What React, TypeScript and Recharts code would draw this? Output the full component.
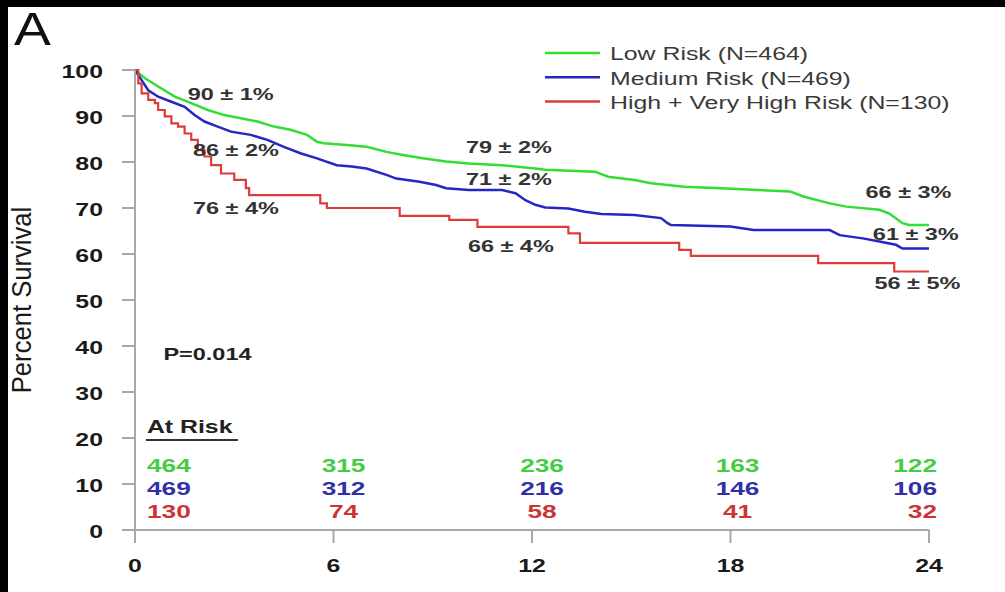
import { LineChart, Line, XAxis, YAxis, ReferenceDot } from 'recharts';

// Kaplan-Meier estimates (months, percent surviving)
const lowMonths = [0, 0.3, 0.7, 1.2, 1.7, 2.2, 2.7, 3.2, 3.7, 4.2, 4.7, 5.2, 5.5, 5.7, 6.4, 7.0, 7.6, 8.1, 8.7, 9.4, 10.1, 11.1, 12.1, 12.4, 13.9, 14.3, 15.1, 15.6, 16.6, 17.7, 19.8, 20.2, 21.0, 21.5, 22.5, 22.8, 23.2, 23.4, 24.0];
const lowSurvival = [100, 98.2, 96.4, 94.2, 92.8, 91.3, 90.2, 89.5, 88.8, 87.7, 87.0, 85.9, 84.4, 84.1, 83.7, 83.3, 82.2, 81.5, 80.8, 80.1, 79.7, 79.3, 78.6, 78.3, 77.9, 76.8, 76.1, 75.4, 74.6, 74.3, 73.6, 72.5, 71.0, 70.3, 69.6, 68.8, 66.7, 66.3, 66.3];

const medMonths = [0, 0.2, 0.4, 0.7, 1.1, 1.5, 1.8, 2.1, 2.5, 2.9, 3.5, 4.0, 4.5, 5.0, 5.5, 6.1, 6.55, 7.0, 7.6, 7.9, 8.6, 9.1, 9.4, 10.1, 11.1, 11.5, 11.8, 12.1, 12.4, 13.1, 13.6, 14.1, 15.1, 15.9, 16.1, 16.2, 18.0, 18.7, 21.0, 21.3, 22.0, 22.5, 23.0, 23.2, 24.0];
const medSurvival = [100, 97.8, 95.6, 94.2, 93.1, 92.0, 90.2, 88.8, 87.7, 86.6, 85.9, 84.8, 83.3, 81.9, 80.8, 79.3, 79.0, 78.6, 77.2, 76.4, 75.7, 75.0, 74.3, 73.9, 73.9, 73.2, 71.7, 70.7, 70.1, 69.9, 69.2, 68.7, 68.5, 67.8, 66.7, 66.3, 66.0, 65.2, 65.2, 64.1, 63.4, 62.7, 62.0, 61.2, 61.2];

const highMonths = [0, 0.1, 0.2, 0.4, 0.6, 0.7, 0.9, 1.1, 1.3, 1.5, 1.7, 1.9, 2.1, 2.3, 2.6, 3.0, 3.35, 3.45, 5.6, 5.8, 8.0, 9.5, 10.35, 13.1, 13.45, 16.45, 16.8, 20.65, 22.95, 24.0];
const highSurvival = [100, 97.1, 94.9, 93.5, 92.8, 91.3, 89.9, 88.4, 87.7, 86.2, 84.8, 82.6, 81.2, 79.3, 77.5, 76.1, 74.3, 72.8, 71.0, 70.0, 68.3, 67.4, 65.9, 64.5, 62.4, 60.9, 59.6, 58.0, 56.2, 56.2];

const seriesNames = ['Low Risk (N=464)', 'Medium Risk (N=469)', 'High + Very High Risk (N=130)'];

const monthTicks = [0, 6, 12, 18, 24];
const survivalTicks = [0, 10, 20, 30, 40, 50, 60, 70, 80, 90, 100];

// numbers at risk under the curves
const atRiskMonths = [0, 6, 12, 18, 24];
const atRiskLow = [464, 315, 236, 163, 122];
const atRiskMed = [469, 312, 216, 146, 106];
const atRiskHigh = [130, 74, 58, 41, 32];
const atRiskRowLevels = [14.1, 9.0, 4.0];

// survival estimates written on the plot
const estimateTexts = ['90 ± 1%', '86 ± 2%', '76 ± 4%', '79 ± 2%', '71 ± 2%', '66 ± 4%', '66 ± 3%', '61 ± 3%', '56 ± 5%'];
const estimateMonths = [2.89, 3.05, 3.05, 11.3, 11.3, 11.36, 23.38, 23.6, 23.65];
const estimateLevels = [94.8, 82.6, 70.0, 83.3, 76.3, 61.7, 73.5, 64.3, 53.7];

const pValue = 'P=0.014';

const COLORS = ['#33dd33', '#2626c4', '#e03a3a'];
const RISK_COLORS = ['#44cc44', '#3030a8', '#cc3535'];
const FONT = '"Liberation Sans", Arial, Helvetica, sans-serif';
const SX = 1.38;

const toPoints = (months: number[], values: number[]) =>
  months.map((m, i) => ({ month: m, survival: values[i] }));

const lowData = toPoints(lowMonths, lowSurvival);
const medData = toPoints(medMonths, medSurvival);
const highData = toPoints(highMonths, highSurvival);

function SText({ x, y, anchor = 'start', size, weight = 'bold', fill = '#222', children, sx = SX }: any) {
  return (
    <text
      transform={`translate(${x},${y}) scale(${sx},1)`}
      textAnchor={anchor}
      dominantBaseline="central"
      fontSize={size}
      fontWeight={weight}
      fill={fill}
      fontFamily={FONT}
    >
      {children}
    </text>
  );
}

const YTick = (props: any) => (
  <SText x={props.x - 17} y={props.y + 2} anchor="end" size={18} fill="#1a1a1a">
    {props.payload.value}
  </SText>
);

const XTick = (props: any) => (
  <SText x={props.x} y={props.y + 21} anchor="middle" size={18} fill="#1a1a1a">
    {props.payload.value}
  </SText>
);

const riskAnchors = ['start', 'middle', 'middle', 'middle', 'end'];
const riskOffsets = [12, 10, 10, 7, 8];

export default function App() {
  const rows = [atRiskLow, atRiskMed, atRiskHigh];
  return (
    <div style={{ position: 'absolute', left: 0, top: 0, width: 1005, height: 592, background: '#000', overflow: 'hidden' }}>
      <div style={{ position: 'absolute', left: 8, top: 7, right: 0, bottom: 0, background: '#fff' }} />
      <div style={{ position: 'absolute', left: 0, top: 0 }}>
        <LineChart width={1005} height={592} margin={{ top: 70, right: 76, bottom: 0, left: 0 }}>
          <XAxis
            dataKey="month"
            type="number"
            domain={[0, 24]}
            ticks={monthTicks}
            height={62}
            tickSize={13}
            axisLine={{ stroke: '#a8a8a8', strokeWidth: 2 }}
            tickLine={{ stroke: '#a8a8a8', strokeWidth: 2 }}
            tick={<XTick />}
            allowDuplicatedCategory={false}
          />
          <YAxis
            type="number"
            domain={[0, 100]}
            ticks={survivalTicks}
            width={135}
            tickSize={13}
            axisLine={{ stroke: '#a8a8a8', strokeWidth: 2 }}
            tickLine={{ stroke: '#a8a8a8', strokeWidth: 2 }}
            tick={<YTick />}
          />
          <Line data={lowData} dataKey="survival" type="linear" stroke={COLORS[0]} strokeWidth={2.5} dot={false} isAnimationActive={false} />
          <Line data={medData} dataKey="survival" type="linear" stroke={COLORS[1]} strokeWidth={2.5} dot={false} isAnimationActive={false} />
          <Line data={highData} dataKey="survival" type="stepAfter" stroke={COLORS[2]} strokeWidth={2.2} dot={false} isAnimationActive={false} />

          {estimateTexts.map((t, i) => (
            <ReferenceDot
              key={'est' + i}
              x={estimateMonths[i]}
              y={estimateLevels[i]}
              r={0}
              shape={(p: any) => (
                <SText x={p.cx} y={p.cy} anchor="middle" size={17} fill="#333">
                  {t}
                </SText>
              )}
            />
          ))}

          <ReferenceDot
            x={2.19}
            y={38.3}
            r={0}
            shape={(p: any) => (
              <SText x={p.cx} y={p.cy} anchor="middle" size={17} fill="#222">
                {pValue}
              </SText>
            )}
          />

          <ReferenceDot
            x={0.36}
            y={22.4}
            r={0}
            shape={(p: any) => (
              <g>
                <SText x={p.cx} y={p.cy} anchor="start" size={18} fill="#222">
                  At Risk
                </SText>
                <line x1={p.cx - 1} x2={p.cx + 91} y1={p.cy + 13} y2={p.cy + 13} stroke="#333" strokeWidth={2} />
              </g>
            )}
          />

          {rows.map((row, r) =>
            row.map((v, i) => (
              <ReferenceDot
                key={`risk${r}-${i}`}
                x={atRiskMonths[i]}
                y={atRiskRowLevels[r]}
                r={0}
                shape={(p: any) => (
                  <SText x={p.cx + riskOffsets[i]} y={p.cy} anchor={riskAnchors[i]} size={19} fill={RISK_COLORS[r]}>
                    {v}
                  </SText>
                )}
              />
            ))
          )}
        </LineChart>
      </div>

      {/* panel letter, axis title and legend */}
      <svg width={1005} height={592} style={{ position: 'absolute', left: 0, top: 0, pointerEvents: 'none' }}>
        <text transform="translate(14,45) scale(1.2,1)" fontSize={46} fontFamily={FONT} fill="#111">
          A
        </text>
        <text
          transform="translate(22,300) rotate(-90) scale(1.22,1.33)"
          textAnchor="middle"
          dominantBaseline="central"
          fontSize={21}
          fontFamily={FONT}
          fill="#1a1a1a"
        >
          Percent Survival
        </text>
        {seriesNames.map((name, i) => (
          <g key={name}>
            <line x1={545} x2={600} y1={53 + i * 24.3} y2={53 + i * 24.3} stroke={COLORS[i]} strokeWidth={2.5} />
            <SText x={610} y={54 + i * 24.3} size={18} weight="normal" fill="#3a3a3a">
              {name}
            </SText>
          </g>
        ))}
      </svg>
    </div>
  );
}
